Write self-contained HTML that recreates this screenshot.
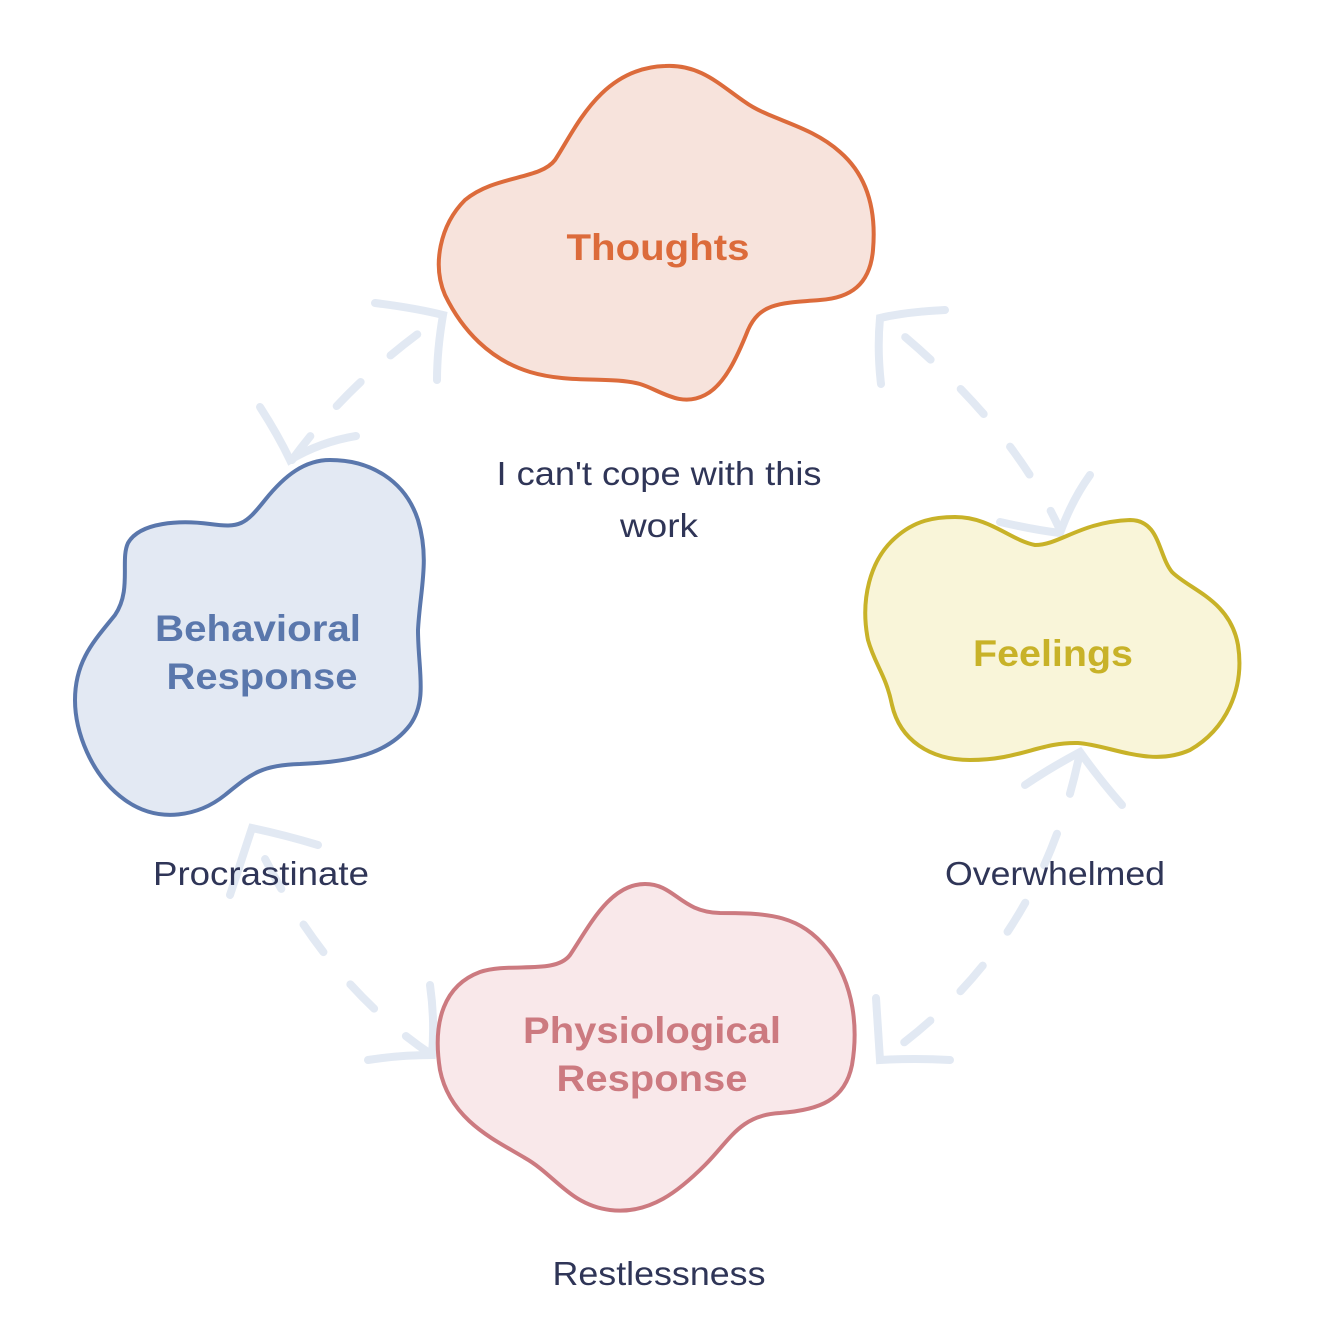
<!DOCTYPE html>
<html><head><meta charset="utf-8"><style>
html,body{margin:0;padding:0;background:#fff;}
svg{display:block;}
text{font-family:"Liberation Sans",sans-serif;}
</style></head><body>
<svg width="1324" height="1324" viewBox="0 0 1324 1324" xmlns="http://www.w3.org/2000/svg">
<g fill="none" stroke="#e2e9f3" stroke-width="8" stroke-linecap="round">
  <path d="M882,318 Q1010,420 1060,530" stroke-dasharray="34,42" stroke-dashoffset="-30"/>
  <path d="M945,310 Q905,312 880,318 Q877,350 881,384"/>
  <path d="M1000,522 Q1035,530 1060,533 Q1072,500 1090,475"/>
  <path d="M440,318 Q350,380 292,460" stroke-dasharray="34,40" stroke-dashoffset="-28"/>
  <path d="M375,303 Q415,308 443,315 Q437,350 437,380"/>
  <path d="M260,407 Q278,435 290,460 Q320,442 356,436"/>
  <path d="M252,832 Q320,980 432,1055" stroke-dasharray="34,42" stroke-dashoffset="-30"/>
  <path d="M318,845 Q285,835 252,828 Q240,865 230,895"/>
  <path d="M368,1060 Q400,1055 432,1055 Q435,1020 430,985"/>
  <path d="M880,1060 Q1040,950 1080,752" stroke-dasharray="34,42" stroke-dashoffset="-30"/>
  <path d="M950,1060 Q915,1058 880,1060 Q878,1030 876,998"/>
  <path d="M1025,785 Q1050,768 1080,752 Q1100,780 1122,805"/>
</g>
<path d="M665,66 C700,64 720,85 745,102 C770,120 810,125 840,152 C870,178 876,215 873,250 C870,285 850,298 820,300 C780,303 760,303 748,330 C738,355 725,385 705,395 C680,408 660,390 640,384 C610,376 570,384 530,372 C490,360 462,330 445,295 C432,265 440,225 465,200 C495,175 540,180 555,160 C575,130 600,68 665,66 Z" fill="#f7e3dc" stroke="#dc6b3b" stroke-width="4"/>
<path d="M955,517 C990,517 1010,540 1035,545 C1060,545 1080,522 1130,520 C1160,520 1158,555 1172,572 C1190,590 1230,600 1238,645 C1245,690 1225,730 1190,750 C1150,768 1110,745 1078,743 C1040,742 1020,760 970,760 C930,760 900,740 892,705 C886,675 875,665 868,640 C860,600 870,560 895,538 C915,520 935,517 955,517 Z" fill="#f9f5d9" stroke="#c8b228" stroke-width="4"/>
<path d="M330,460 C370,460 405,480 418,520 C430,560 420,590 418,630 C418,670 428,700 410,725 C385,758 340,762 300,764 C260,765 250,775 225,795 C200,815 160,825 125,800 C90,775 75,730 75,700 C75,660 95,640 115,615 C132,590 120,560 128,543 C140,522 180,520 210,524 C240,528 245,525 265,500 C285,475 305,460 330,460 Z" fill="#e3e9f3" stroke="#5a77ac" stroke-width="4"/>
<path d="M645,884 C675,884 680,912 720,913 C770,913 800,915 828,950 C855,985 858,1030 852,1065 C845,1100 820,1110 780,1113 C740,1115 730,1140 705,1165 C680,1190 650,1215 610,1210 C570,1205 555,1175 525,1158 C495,1140 450,1120 440,1070 C432,1020 445,985 480,972 C510,962 555,975 570,955 C590,925 610,884 645,884 Z" fill="#f9e8ea" stroke="#cc7a80" stroke-width="4"/>
<g font-weight="bold" font-size="37" text-anchor="middle" lengthAdjust="spacingAndGlyphs">
  <text x="658" y="260" fill="#dc6b3b" textLength="183" lengthAdjust="spacingAndGlyphs">Thoughts</text>
  <text x="1053" y="666" fill="#c8b228" textLength="160" lengthAdjust="spacingAndGlyphs">Feelings</text>
  <text x="258" y="641" fill="#5a77ac" textLength="206" lengthAdjust="spacingAndGlyphs">Behavioral</text>
  <text x="262" y="689" fill="#5a77ac" textLength="191" lengthAdjust="spacingAndGlyphs">Response</text>
  <text x="652" y="1043" fill="#cc7a80" textLength="258" lengthAdjust="spacingAndGlyphs">Physiological</text>
  <text x="652" y="1091" fill="#cc7a80" textLength="191" lengthAdjust="spacingAndGlyphs">Response</text>
</g>
<g font-size="33" fill="#2f3557" text-anchor="middle">
  <text x="659" y="485" textLength="325" lengthAdjust="spacingAndGlyphs">I can't cope with this</text>
  <text x="659" y="537" textLength="78" lengthAdjust="spacingAndGlyphs">work</text>
  <text x="261" y="885" textLength="216" lengthAdjust="spacingAndGlyphs">Procrastinate</text>
  <text x="1055" y="885" textLength="220" lengthAdjust="spacingAndGlyphs">Overwhelmed</text>
  <text x="659" y="1285" textLength="213" lengthAdjust="spacingAndGlyphs">Restlessness</text>
</g>
</svg>
</body></html>
